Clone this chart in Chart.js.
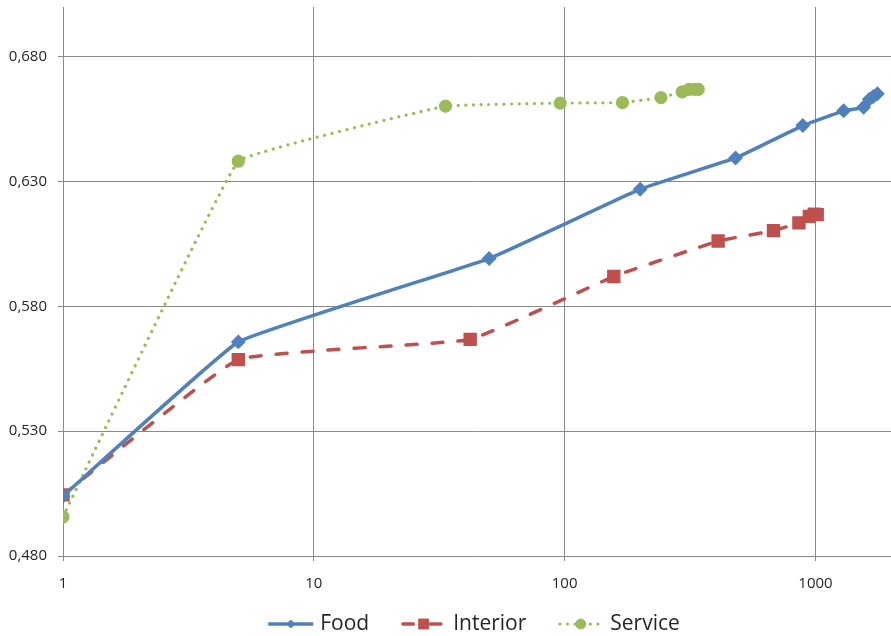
<!DOCTYPE html>
<html>
<head>
<meta charset="utf-8">
<script src="https://cdn.jsdelivr.net/npm/chart.js@4/dist/chart.umd.min.js"></script>
<style>
  html, body { margin: 0; padding: 0; background: #ffffff; }
  #wrap { width: 891px; height: 636px; position: relative; }
</style>
</head>
<body>
<div id="wrap"><canvas id="chart"></canvas></div>
<script>
// Series values (x on a log scale, y as share)
const foodX = [1, 5, 50, 200, 480, 890, 1295, 1555, 1640, 1700, 1765];
const foodY = [0.504, 0.5658, 0.5992, 0.6270, 0.6395, 0.6525, 0.6584, 0.6598, 0.6630, 0.6641, 0.6652];

const interiorX = [1, 5, 42, 157, 409, 680, 859, 945, 989, 1016];
const interiorY = [0.5045, 0.5587, 0.5668, 0.5920, 0.6062, 0.6104, 0.6135, 0.6161, 0.6170, 0.6168];

const serviceX = [1, 5, 33.5, 96, 170, 242, 294, 313, 329, 341];
const serviceY = [0.4957, 0.6382, 0.6603, 0.6615, 0.6617, 0.6637, 0.6660, 0.6670, 0.6670, 0.6670];

// Axis ticks
const xTicks = [1, 10, 100, 1000];
const yTicks = [0.48, 0.53, 0.58, 0.63, 0.68];

const pairs = (xs, ys) => xs.map((x, i) => ({ x: x, y: ys[i] }));

const GRID = '#8a8a8a';
const TEXT = '#262626';

// Legend drawn under the plot: line sample with marker, then the series name
const seriesKey = {
  id: 'seriesKey',
  afterDraw(chart) {
    const ctx = chart.ctx;
    const area = chart.chartArea;
    const sample = 45, gapText = 7, gapItem = 32;
    ctx.save();
    ctx.font = '21px "Open Sans"';
    const items = chart.data.datasets.map(ds => ({ ds: ds, w: ctx.measureText(ds.label).width }));
    const total = items.reduce((s, it) => s + sample + gapText + it.w, 0) + gapItem * (items.length - 1);
    let x = (area.left + area.right) / 2 - total / 2 - 3;
    const y = chart.height - 12;
    items.forEach(it => {
      const ds = it.ds;
      const inset = ds.borderCapStyle === 'round' ? ds.borderWidth / 2 : 0;
      ctx.save();
      ctx.strokeStyle = ds.borderColor;
      ctx.lineWidth = ds.borderWidth;
      ctx.lineCap = ds.borderCapStyle || 'butt';
      ctx.setLineDash(ds.keyDash || []);
      ctx.beginPath();
      ctx.moveTo(x + inset, y);
      ctx.lineTo(x + sample - inset, y);
      ctx.stroke();
      ctx.restore();
      ctx.save();
      ctx.fillStyle = ds.pointBackgroundColor;
      ctx.strokeStyle = ds.pointBorderColor;
      ctx.lineWidth = 1;
      Chart.helpers.drawPoint(ctx, { pointStyle: ds.pointStyle, radius: ds.keyRadius, rotation: 0, borderWidth: 1 }, x + sample / 2, y);
      ctx.restore();
      ctx.fillStyle = TEXT;
      ctx.textBaseline = 'middle';
      ctx.textAlign = 'left';
      ctx.fillText(ds.label, x + sample + gapText, y);
      x += sample + gapText + it.w + gapItem;
    });
    ctx.restore();
  }
};

new Chart(document.getElementById('chart'), {
  type: 'line',
  data: {
    datasets: [
      {
        label: 'Food',
        data: pairs(foodX, foodY),
        borderColor: '#4f81bd',
        backgroundColor: '#4f81bd',
        pointBackgroundColor: '#4f81bd',
        pointBorderColor: '#4f81bd',
        borderWidth: 3.5,
        pointStyle: 'rectRot',
        pointRadius: 5,
        keyRadius: 4,
        tension: 0.08,
        order: 1
      },
      {
        label: 'Interior',
        data: pairs(interiorX, interiorY),
        borderColor: '#c0504d',
        backgroundColor: '#c0504d',
        pointBackgroundColor: '#c0504d',
        pointBorderColor: '#c0504d',
        borderWidth: 3.5,
        borderCapStyle: 'round',
        borderDash: [11, 15],
        keyDash: [10.5, 17],
        pointStyle: 'rect',
        pointRadius: 7,
        keyRadius: 7,
        tension: 0.1,
        order: 2
      },
      {
        label: 'Service',
        data: pairs(serviceX, serviceY),
        borderColor: '#9bbb59',
        backgroundColor: '#9bbb59',
        pointBackgroundColor: '#9bbb59',
        pointBorderColor: '#9bbb59',
        borderWidth: 3.2,
        borderCapStyle: 'round',
        borderDash: [0.01, 7.6],
        keyDash: [0.01, 7.6],
        pointStyle: 'circle',
        pointRadius: 5,
        keyRadius: 5,
        tension: 0.06,
        order: 3
      }
    ]
  },
  options: {
    responsive: true,
    maintainAspectRatio: false,
    animation: false,
    devicePixelRatio: 1,
    layout: { autoPadding: false, padding: { top: 7, right: 0, bottom: 36, left: 0 } },
    plugins: {
      legend: { display: false },
      tooltip: { enabled: false }
    },
    scales: {
      x: {
        type: 'logarithmic',
        min: 1,
        max: 2000,
        afterBuildTicks: s => { s.ticks = xTicks.map(v => ({ value: v })); },
        afterFit: s => { s.height = 44; s.paddingLeft = 0; s.paddingRight = 0; },
        grid: { color: GRID, lineWidth: 1, tickLength: 5, drawTicks: true },
        border: { color: GRID, width: 1 },
        ticks: {
          autoSkip: false,
          maxRotation: 0,
          padding: 14,
          color: TEXT,
          font: { family: '"Open Sans"', size: 15 },
          callback: v => String(v)
        }
      },
      y: {
        type: 'linear',
        min: 0.48,
        max: 0.70,
        afterBuildTicks: s => { s.ticks = yTicks.map(v => ({ value: v })); },
        afterFit: s => { s.width = 63; s.paddingTop = 0; s.paddingBottom = 0; },
        grid: { color: GRID, lineWidth: 1, tickLength: 5, drawTicks: true },
        border: { color: GRID, width: 1 },
        ticks: {
          padding: 11,
          color: TEXT,
          font: { family: '"Open Sans"', size: 15 },
          callback: v => v.toFixed(3).replace('.', ',')
        }
      }
    }
  },
  plugins: [seriesKey]
});
</script>
</body>
</html>
